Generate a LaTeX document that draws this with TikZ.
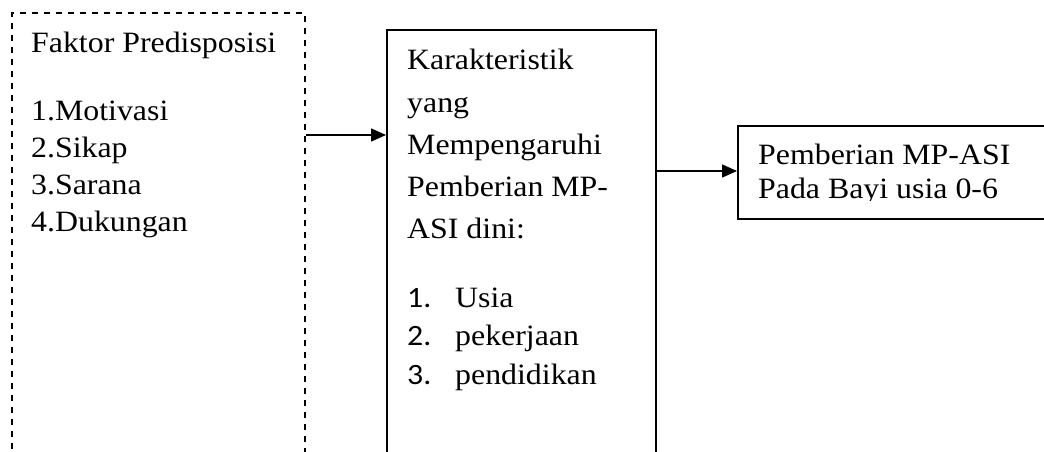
\documentclass[tikz,border=0pt]{standalone}
\usepackage{fontspec}
\setmainfont[FakeStretch=1.08]{Liberation Serif}
\newfontfamily\numfont[FakeStretch=1.08]{Carlito}
\usetikzlibrary{arrows.meta}
\tikzset{
  every node/.style={font=\fontsize{29.5}{36}\selectfont},
  txt/.style={anchor=base west, inner sep=0pt},
  dashbox/.style={draw, line width=1.8pt, dash pattern=on 6pt off 6pt, anchor=north west, inner sep=0pt},
  solidbox/.style={draw, line width=1.6pt, anchor=north west, inner sep=0pt},
  thickbox/.style={draw, line width=2.3pt, anchor=north west, inner sep=0pt},
  arr/.style={line width=1.6pt, -{Triangle[length=15pt,width=13pt]}}
}
\begin{document}
\begin{tikzpicture}[x=1pt,y=-1pt]
\useasboundingbox (0,0) rectangle (1044,452);
\clip (0,0) rectangle (1044,452);
% boxes
\node[dashbox, minimum width=293pt, minimum height=460pt] (L) at (11,12) {};
\node[solidbox, minimum width=269pt, minimum height=460pt] (M) at (386,29) {};
\node[thickbox, minimum width=330pt, minimum height=93pt] (R) at (737,125) {};
% left text
\node[txt] (l0) at (31,53) {Faktor Predisposisi};
\node[txt] (l1) at (31,120) {1.Motivasi};
\node[txt] (l2) at (31,157) {2.Sikap};
\node[txt] (l3) at (31,194) {3.Sarana};
\node[txt] (l4) at (31,231) {4.Dukungan};
% middle text
\node[txt] (m0) at (407,70) {Karakteristik};
\node[txt] (m1) at (407,112) {yang};
\node[txt] (m2) at (407,154) {Mempengaruhi};
\node[txt] (m3) at (407,196) {Pemberian MP-};
\node[txt] (m4) at (407,238) {ASI dini:};
\node[txt] (n1) at (407,307) {\numfont 1.};
\node[txt] (n2) at (407,345) {\numfont 2.};
\node[txt] (n3) at (407,384) {\numfont 3.};
\node[txt] (i1) at (455,307) {Usia};
\node[txt] (i2) at (455,345) {pekerjaan};
\node[txt] (i3) at (455,384) {pendidikan};
% right text
\node[txt] (r0) at (758,164) {Pemberian MP-ASI};
\begin{scope}
\clip (737,170) rectangle (1044,200.6);
\node[txt] (r1) at (758,198) {Pada Bayi usia 0-6};
\end{scope}
% arrows
\coordinate (a1) at (0,135);
\coordinate (a2) at (0,171);
\draw[arr] (L.east |- a1) -- (M.west |- a1);
\draw[arr] (M.east |- a2) -- (R.west |- a2);
\end{tikzpicture}
\end{document}
